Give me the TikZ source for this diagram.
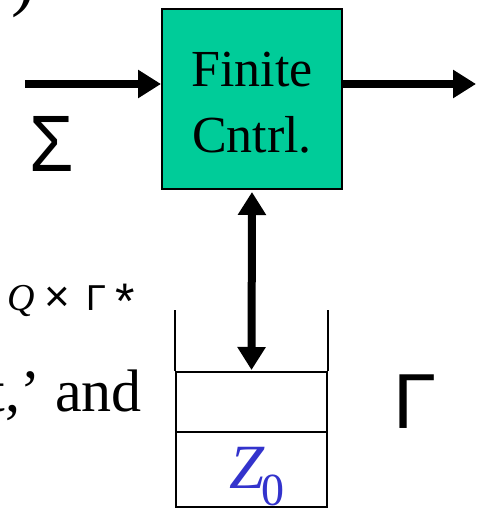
\documentclass[tikz,border=0pt]{standalone}
\usepackage{fontspec}
\setmainfont{Liberation Serif}
\newfontfamily\arialf{Liberation Sans}
\usetikzlibrary{arrows.meta}
\definecolor{fcgreen}{RGB}{0,204,153}
\definecolor{zblue}{RGB}{51,51,204}
\tikzset{
  bighead/.tip={Triangle[length=23pt,width=27pt]},
  thickarrow/.style={line width=8pt, -bighead},
  thickdouble/.style={line width=8pt, bighead-bighead},
  fcbox/.style={draw=black, line width=2pt, fill=fcgreen, minimum width=180pt, minimum height=180pt, inner sep=0pt},
  boxtext/.style={inner sep=0pt, anchor=base, font=\fontsize{52}{64}\selectfont},
  cell/.style={draw=black, line width=2pt, minimum width=151pt, inner sep=0pt},
  stackwall/.style={line width=2pt},
  txt/.style={inner sep=0pt},
}
\begin{document}
\begin{tikzpicture}[x=1pt,y=-1pt]
\useasboundingbox (0,0) rectangle (476,508);
% partial parenthesis at top-left
\node[txt, anchor=base west, font=\fontsize{72}{80}\selectfont] (par) at (11,3) {)};
% finite control
\node[fcbox] (fc) at (252,99) {};
\node[boxtext] (fin) at (252,87) {Finite};
\node[boxtext] (cnt) at (252,152) {Cntrl.};
% input / output arrows
\coordinate (inS) at (25,84);
\coordinate (outE) at (476,84);
\draw[thickarrow] (inS) -- (inS -| fc.west);
\draw[thickarrow] (outE -| fc.east) -- (outE);
\node[txt, anchor=base, font=\arialf\fontsize{80}{90}\selectfont, xscale=0.9] (sig) at (52,171) {Σ};
% stack
\node[cell, minimum height=60pt] (c1) at (251.5,402) {};
\node[cell, minimum height=75pt] (c0) at (251.5,469.5) {};
\draw[stackwall] (c1.north west) -- ++(0,-61);
\draw[stackwall] (c1.north east) -- ++(0,-61);
\draw[thickdouble, shorten <=2pt, shorten >=1pt] (fc.south) -- (c1.north);
\node[txt, anchor=base west, text=zblue, font=\itshape\fontsize{63}{70}\selectfont] (zz) at (229,488) {Z};
\node[txt, anchor=base west, text=zblue, font=\fontsize{46}{52}\selectfont] (zsub) at (261,505) {0};
\node[txt, anchor=base, font=\arialf\fontsize{78}{90}\selectfont] (gam) at (415,428) {Γ};
% left text
\node[txt, anchor=base east, font=\fontsize{60}{72}\selectfont] (andtxt) at (142,411) {t,’ and};
\node[txt, anchor=base west, font=\itshape\fontsize{38}{44}\selectfont] (qq) at (7,310) {Q};
\node[txt, anchor=base, font=\arialf\fontsize{44}{50}\selectfont] (tms) at (57.5,311) {×};
\node[txt, anchor=base, font=\arialf\fontsize{36}{42}\selectfont] (gsm) at (96,310) {Γ};
\node[txt, anchor=base, font=\arialf\fontsize{50}{56}\selectfont] (ast) at (125,318) {*};
\end{tikzpicture}
\end{document}
